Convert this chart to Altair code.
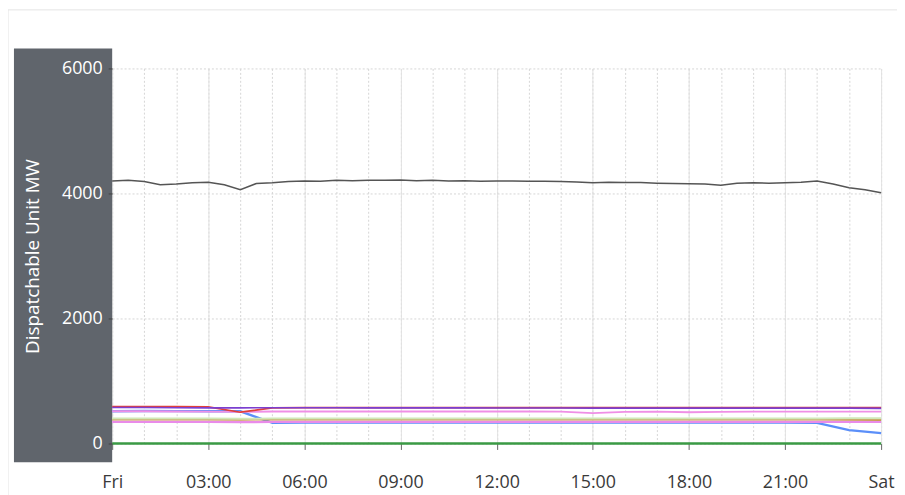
import altair as alt
import pandas as pd

BASE = pd.Timestamp("2021-01-01")  # a Friday

# Dispatchable unit MW, half-hourly (00:00 .. 24:00)
gray_hours = [i * 0.5 for i in range(49)]
gray_mw = [4200, 4210, 4190, 4140, 4150, 4170, 4180, 4140, 4060, 4160,
           4170, 4190, 4200, 4195, 4210, 4205, 4210, 4210, 4215, 4205,
           4210, 4200, 4205, 4195, 4200, 4200, 4195, 4195, 4190, 4185,
           4170, 4180, 4175, 4175, 4165, 4160, 4155, 4150, 4130, 4165,
           4170, 4165, 4170, 4180, 4200, 4150, 4090, 4060, 4010]

# Smaller units, hourly (00:00 .. 24:00)
hourly = list(range(25))
purple_mw = [575, 575, 572, 570, 570, 572, 572, 572, 570, 570, 570, 570, 568,
             568, 568, 565, 565, 565, 565, 565, 565, 565, 565, 565, 562]
red_mw = [590, 590, 588, 585, 500, 570, 572, 572, 572, 572, 572, 572, 572,
          572, 572, 572, 572, 572, 572, 572, 572, 572, 572, 572, 572]
pink_mw = [515, 515, 512, 510, 505, 512, 512, 512, 512, 512, 512, 512, 512,
           512, 510, 485, 505, 510, 500, 505, 510, 510, 510, 510, 510]
green_light_mw = [400, 400, 398, 398, 396, 398, 398, 398, 398, 398, 398, 398, 398,
                  398, 398, 398, 398, 398, 398, 398, 398, 398, 400, 405, 405]
orange_mw = [385, 385, 384, 383, 382, 384, 385, 385, 385, 385, 385, 384, 384,
             384, 384, 384, 384, 384, 384, 384, 384, 384, 385, 380, 375]
magenta_mw = [345, 345, 344, 344, 340, 344, 345, 345, 345, 345, 345, 345, 345,
              345, 345, 345, 345, 345, 345, 345, 345, 345, 345, 345, 345]
blue_mw = [515, 520, 518, 515, 515, 330, 335, 335, 335, 335, 335, 335, 335,
           335, 335, 335, 335, 335, 335, 335, 335, 335, 330, 215, 165]
zero_mw = [0] * 25

series = [
    ("green", hourly, zero_mw, "#3a9a44", 2.5),
    ("blue", hourly, blue_mw, "#5b8ff9", 1.5),
    ("magenta", hourly, magenta_mw, "#e98be9", 1.5),
    ("orange", hourly, orange_mw, "#c99a55", 2),
    ("lightgreen", hourly, green_light_mw, "#cfe8b8", 1.5),
    ("pink", hourly, pink_mw, "#ef8fe6", 1.5),
    ("red", hourly, red_mw, "#e0403a", 1.5),
    ("purple", hourly, purple_mw, "#7b3fd0", 3.5),
    ("gray", gray_hours, gray_mw, "#555555", 2.5),
]

rows = []
for name, hrs, vals, color, width in series:
    for h, v in zip(hrs, vals):
        rows.append({"unit": name, "time": BASE + pd.to_timedelta(h, unit="h"), "mw": v})
df = pd.DataFrame(rows)

names = [s[0] for s in series]
colors = [s[3] for s in series]
widths = [s[4] for s in series]

W, H = 775, 378
FONT = "Open Sans"


def dt(day, h):
    return alt.DateTime(year=2021, month=1, date=day, hours=h)


hour_ticks = [dt(1, h) for h in range(24)] + [dt(2, 0)]
three_hour_ticks = [dt(1, h) for h in range(0, 24, 3)] + [dt(2, 0)]
x_scale = alt.Scale(domain=[dt(1, 0), dt(2, 0)], nice=False)
y_scale = alt.Scale(domain=[0, 6000], nice=False)

# Ghost layer that carries only the dotted grid lines
grid_layer = alt.Chart(df).mark_line(opacity=0).encode(
    x=alt.X("time:T", scale=x_scale, axis=alt.Axis(
        title=None, orient="bottom", values=hour_ticks, labels=False, ticks=False,
        domain=False, grid=True, gridColor="#d6d6d6", gridDash=[2, 2], gridWidth=1)),
    y=alt.Y("mw:Q", scale=y_scale, axis=alt.Axis(
        title=None, orient="left", values=[0, 2000, 4000, 6000], labels=False, ticks=False,
        domain=False, grid=True, gridColor="#d6d6d6", gridDash=[2, 2], gridWidth=1)),
    detail="unit:N",
)

card = alt.Chart(pd.DataFrame({"a": [0]})).mark_rect(
    fill="transparent", stroke="#e4e4e4", strokeWidth=1
).encode(x=alt.value(-105), x2=alt.value(820), y=alt.value(-59), y2=alt.value(460))

panel = alt.Chart(pd.DataFrame({"a": [0]})).mark_rect(
    fill="#60656c"
).encode(x=alt.value(-99), x2=alt.value(0), y=alt.value(-20), y2=alt.value(H + 19))

lines = alt.Chart(df).mark_line(interpolate="linear").encode(
    x=alt.X("time:T", scale=x_scale, axis=alt.Axis(
        title=None, orient="bottom", values=three_hour_ticks,
        labelExpr="hours(datum.value) == 0 ? timeFormat(datum.value, '%a') : timeFormat(datum.value, '%H:%M')",
        labelOverlap=False, labelFlush=False, labelFont=FONT, labelFontSize=18,
        labelColor="#3a3a3a", labelPadding=24, tickSize=6, tickColor="#666666",
        domain=False, grid=True, gridColor="#e2e2e2", gridWidth=1)),
    y=alt.Y("mw:Q", scale=y_scale, axis=alt.Axis(
        title="Dispatchable Unit MW", orient="left", titleColor="#ffffff", titleFont=FONT,
        titleFontSize=19, titleFontWeight="normal", titlePadding=19,
        values=[0, 2000, 4000, 6000], format="d", labelColor="#ffffff", labelFont=FONT,
        labelFontSize=18, labelPadding=6, tickSize=4, tickColor="#444444",
        domain=False, grid=False, zindex=1)),
    color=alt.Color("unit:N", scale=alt.Scale(domain=names, range=colors), legend=None),
    strokeWidth=alt.StrokeWidth("unit:N", scale=alt.Scale(domain=names, range=widths), legend=None),
)

chart = alt.layer(grid_layer, card, panel, lines).resolve_axis(
    x="independent", y="independent"
).properties(
    width=W, height=H,
    padding={"left": 105, "top": 59, "right": 16, "bottom": 50},
    autosize=alt.AutoSizeParams(type="none"),
    background="#ffffff",
).configure_view(stroke=None)

chart.save("out.html", embed_options={"renderer": "svg", "actions": False})
